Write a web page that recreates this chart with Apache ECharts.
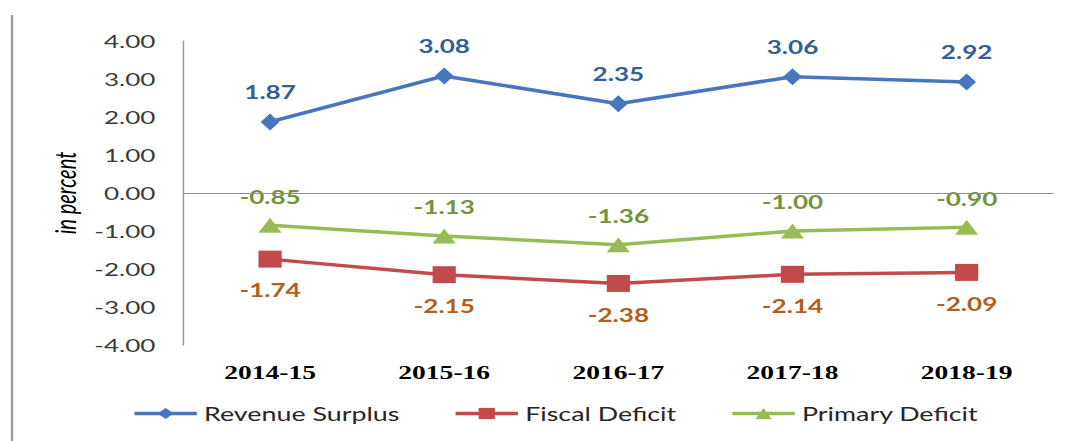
<!DOCTYPE html>
<html>
<head>
<meta charset="utf-8">
<title>Revenue Surplus, Fiscal Deficit and Primary Deficit</title>
<script src="https://cdn.jsdelivr.net/npm/echarts@6/dist/echarts.min.js"></script>
<style>
  html, body { margin: 0; padding: 0; background: #ffffff; overflow: hidden; }
  /* the chart is laid out narrow and widened horizontally, giving the broad lettering */
  #chart { width: 736.55px; height: 441px; transform: scaleX(1.45); transform-origin: 0 0; }
</style>
</head>
<body>
<div id="chart"></div>
<script>
// Fiscal years on the category axis
const categories = ['2014-15', '2015-16', '2016-17', '2017-18', '2018-19'];

// Indicators, in percent
const revenueSurplus = [1.87, 3.08, 2.35, 3.06, 2.92];
const fiscalDeficit = [-1.74, -2.15, -2.38, -2.14, -2.09];
const primaryDeficit = [-0.85, -1.13, -1.36, -1.00, -0.90];

// Value axis range and step
const yMin = -4;
const yMax = 4;
const yStep = 1;

const sansFont = 'Lato';
const fmt = p => Number(p.value).toFixed(2);

const chart = echarts.init(document.getElementById('chart'), null, { renderer: 'svg' });

chart.setOption({
  animation: false,
  backgroundColor: '#ffffff',
  graphic: [{
    type: 'line',
    shape: { x1: 8.3, y1: 15, x2: 8.3, y2: 441 },
    style: { stroke: '#9a9a9a', lineWidth: 1.6 },
    silent: true
  }],
  grid: { left: 126.2, right: 10.3, top: 41, bottom: 96, containLabel: false },
  legend: {
    left: 86,
    top: 399,
    itemWidth: 43,
    itemHeight: 14,
    itemGap: 37,
    lineStyle: { width: 3.5 },
    textStyle: { fontFamily: sansFont, fontSize: 18.5, color: '#262626' },
    data: ['Revenue Surplus', 'Fiscal Deficit', 'Primary Deficit']
  },
  xAxis: {
    type: 'category',
    data: categories,
    boundaryGap: true,
    axisLine: { show: false, onZero: false },
    axisTick: { show: false },
    axisLabel: {
      margin: 18,
      fontFamily: 'Liberation Serif',
      fontWeight: 'bold',
      fontSize: 19,
      color: '#000000'
    },
    splitLine: { show: false }
  },
  yAxis: {
    type: 'value',
    min: yMin,
    max: yMax,
    interval: yStep,
    name: 'in percent',
    nameLocation: 'middle',
    nameRotate: 90,
    nameGap: 69,
    nameTextStyle: { fontFamily: sansFont, fontStyle: 'italic', fontSize: 20, color: '#000000' },
    axisLine: { show: true, lineStyle: { color: '#9a9a9a', width: 1 } },
    axisTick: { show: false },
    splitLine: { show: false },
    axisLabel: {
      margin: 19,
      fontFamily: sansFont,
      fontSize: 18,
      color: '#3a3a3a',
      formatter: v => v.toFixed(2)
    }
  },
  series: [
    {
      name: 'Revenue Surplus',
      type: 'line',
      data: revenueSurplus,
      symbol: 'diamond',
      symbolSize: [13, 17],
      lineStyle: { color: '#4677BE', width: 3.5 },
      itemStyle: { color: '#4677BE' },
      label: {
        show: true, position: 'top', distance: 12,
        fontFamily: sansFont, fontWeight: 'bold', fontSize: 18, color: '#35608F',
        formatter: fmt
      },
      markLine: {
        silent: true,
        symbol: 'none',
        label: { show: false },
        lineStyle: { color: '#8c8c8c', width: 1, type: 'solid' },
        data: [{ yAxis: 0 }]
      },
      z: 3
    },
    {
      name: 'Fiscal Deficit',
      type: 'line',
      data: fiscalDeficit,
      symbol: 'rect',
      symbolSize: [16, 17],
      lineStyle: { color: '#C24A4A', width: 3.5 },
      itemStyle: { color: '#C24A4A' },
      label: {
        show: true, position: 'bottom', distance: 14,
        fontFamily: sansFont, fontWeight: 'bold', fontSize: 18, color: '#B35E1D',
        formatter: fmt
      },
      z: 2
    },
    {
      name: 'Primary Deficit',
      type: 'line',
      data: primaryDeficit,
      symbol: 'triangle',
      symbolSize: [16, 15],
      lineStyle: { color: '#98BC55', width: 3.5 },
      itemStyle: { color: '#98BC55' },
      label: {
        show: true, position: 'top', distance: 12,
        fontFamily: sansFont, fontWeight: 'bold', fontSize: 18, color: '#76923C',
        formatter: fmt
      },
      z: 2
    }
  ]
});
</script>
</body>
</html>
